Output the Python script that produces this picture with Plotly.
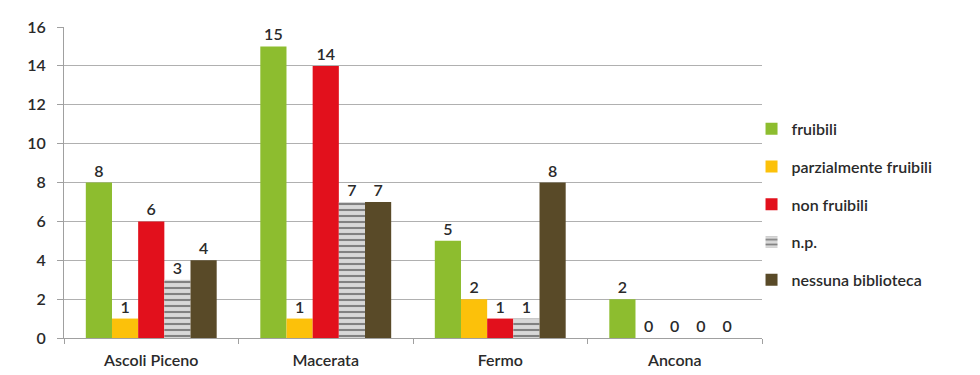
import plotly.graph_objects as go

categories = ["Ascoli Piceno", "Macerata", "Fermo", "Ancona"]
series_names = ["fruibili", "parzialmente fruibili", "non fruibili", "n.p.", "nessuna biblioteca"]
fruibili = [8, 15, 5, 2]
parzialmente = [1, 1, 2, 0]
non_fruibili = [6, 14, 1, 0]
np_vals = [3, 7, 1, 0]
nessuna = [4, 7, 8, 0]
y_ticks = [0, 2, 4, 6, 8, 10, 12, 14, 16]

values = [fruibili, parzialmente, non_fruibili, np_vals, nessuna]
colors = ["#8dbd2f", "#fcc10a", "#e2101c", "#9a9a9a", "#594a28"]

FONT = "Lato"
TXT = "#2a2a2a"

fig = go.Figure()
for i, (name, vals, col) in enumerate(zip(series_names, values, colors)):
    marker = dict(color=col, line=dict(width=0))
    if name == "n.p.":
        marker = dict(color="#c8c8c8", line=dict(width=0),
                      pattern=dict(shape="-", fgcolor="#2a2a2a", bgcolor="#d8d8d8", size=6, solidity=0.35))
    fig.add_trace(go.Bar(
        x=categories, y=vals, name=name, marker=marker, legendgroup="g%d" % i,
        text=[str(v) for v in vals], textposition="outside",
        textfont=dict(size=16, color=TXT, family=FONT, weight=600),
        cliponaxis=False,
    ))

fig.update_layout(
    barmode="group", bargap=0.25, bargroupgap=0,
    width=980, height=375,
    margin=dict(l=56, r=226, t=19, b=45, autoexpand=False),
    plot_bgcolor="white", paper_bgcolor="white",
    font=dict(family=FONT, size=16, color=TXT, weight=600),
    legend=dict(x=0.985, xanchor="left", y=0.43, yanchor="middle",
                font=dict(size=16, family=FONT, color=TXT, weight=600),
                tracegroupgap=14, itemwidth=30, bgcolor="rgba(0,0,0,0)"),
    showlegend=True,
)
fig.update_yaxes(range=[0, 16], tickvals=y_ticks, showgrid=True, gridcolor="#b0b0b0",
                 gridwidth=1, showline=True, linecolor="#a0a0a0", ticks="outside",
                 ticklen=6, tickcolor="#a0a0a0", zeroline=False, automargin=False,
                 ticklabelstandoff=8, tickfont=dict(size=16, weight=600))
fig.update_xaxes(showline=True, linecolor="#a0a0a0", ticks="outside", ticklen=5,
                 tickcolor="#a0a0a0", tickson="boundaries", automargin=False,
                 ticklabelstandoff=8, tickfont=dict(size=16, weight=600))

fig.write_html("out.html")
